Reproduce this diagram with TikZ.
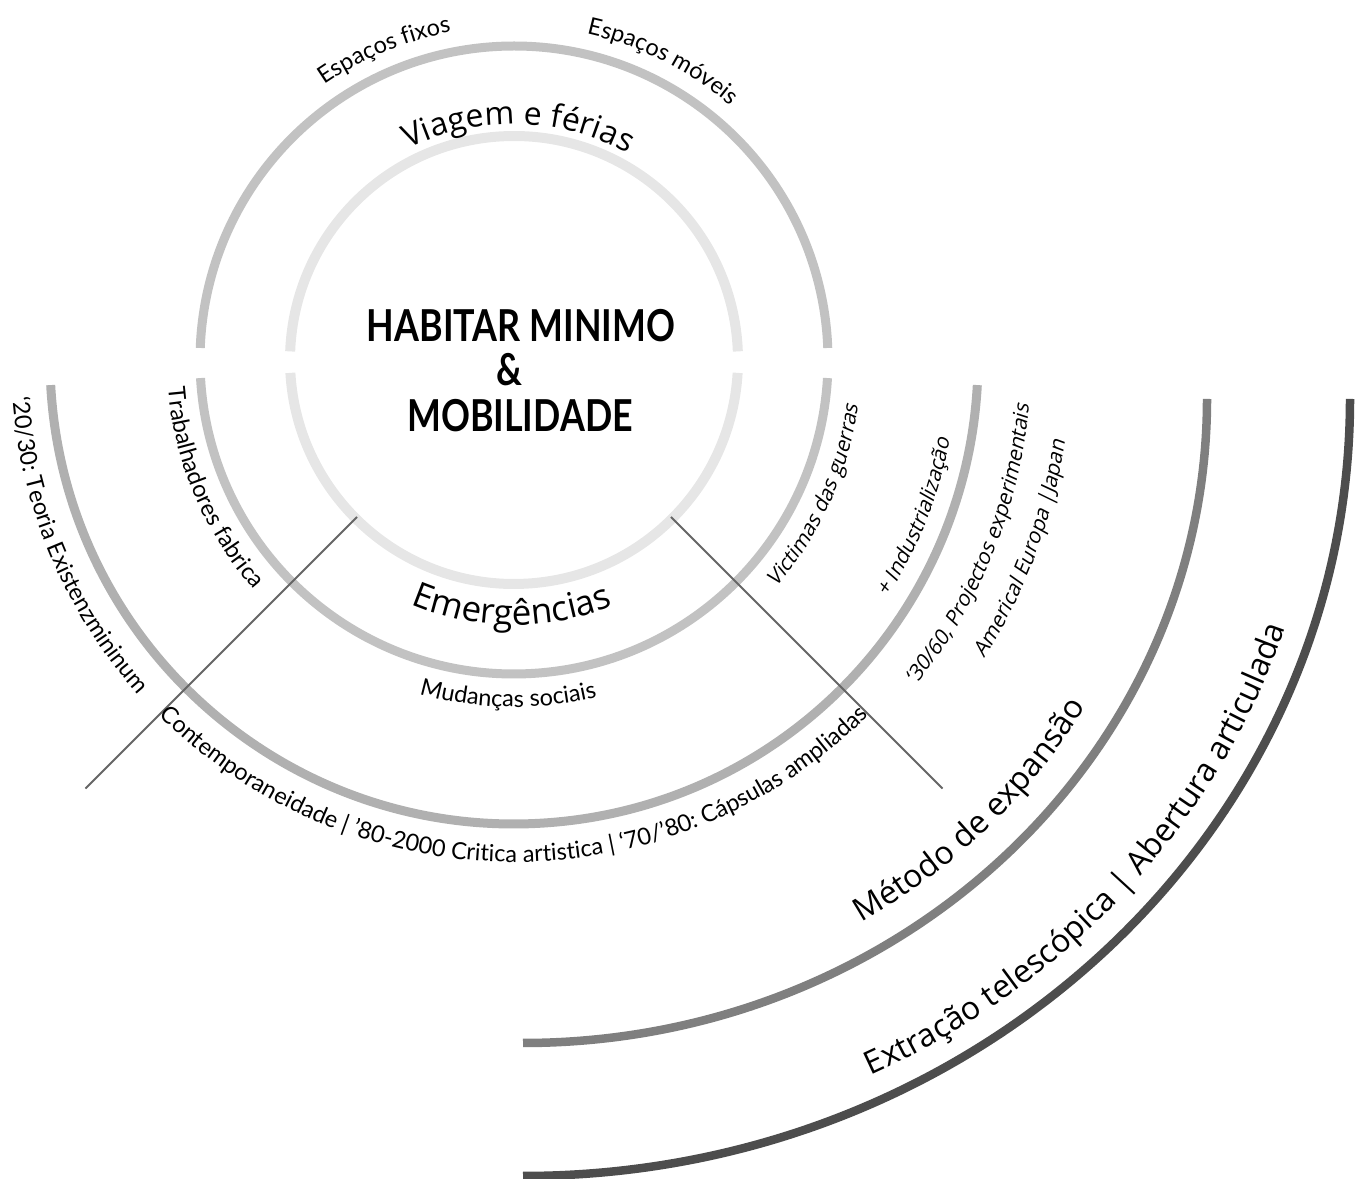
\documentclass[tikz,border=0pt]{standalone}
\usepackage{fontspec}
\setmainfont{Lato}
\newfontfamily\headfont{Open Sans}
\newfontfamily\slantfont{Open Sans}[FakeSlant=0.2]
\newfontfamily\titlefont{Lato}[FakeStretch=0.815]
\usetikzlibrary{decorations.text}
\definecolor{ringone}{HTML}{E6E6E6}
\definecolor{ringtwo}{HTML}{C2C2C2}
\definecolor{ringthree}{HTML}{B0B0B0}
\definecolor{ringfour}{HTML}{7F7F7F}
\definecolor{ringfive}{HTML}{4D4D4D}
\definecolor{divider}{HTML}{666666}
\newcommand\smalltxt{\fontsize{23.5}{28}\selectfont}
\newcommand\bigtxt{\headfont\fontsize{32}{38}\selectfont}
\newcommand\largetxt{\headfont\fontsize{35}{42}\selectfont}
\newcommand\slanttxt{\slantfont\fontsize{21}{25}\selectfont}

\begin{document}
\begin{tikzpicture}[x=1pt, y=1pt,
  ringtext/.style={decorate, decoration={text along path, text align=center, text={#1}}},
  title/.style={font=\titlefont\bfseries\fontsize{44}{50}\selectfont, anchor=base, inner sep=0pt}]
  \useasboundingbox (0,0) rectangle (1368,1178);
  \coordinate (C) at (514,818);
  \coordinate (E) at (523,779);
  \def\rone{224}
  \def\rtwo{314}
  \def\rthree{464}
  \draw[ringone, line width=10pt] (C) ++(2.2:\rone) arc[start angle=2.2, end angle=177.8, radius=\rone];
  \draw[ringone, line width=10pt] (C) ++(183.3:\rone) arc[start angle=183.3, end angle=356.7, radius=\rone];
  \draw[ringtwo, line width=9pt] (C) ++(2.2:\rtwo) arc[start angle=2.2, end angle=177.8, radius=\rtwo];
  \draw[ringtwo, line width=9pt] (C) ++(183.3:\rtwo) arc[start angle=183.3, end angle=356.7, radius=\rtwo];
  \draw[ringthree, line width=9pt] (C) ++(183.1:\rthree) arc[start angle=183.1, end angle=356.9, radius=\rthree];
  \draw[ringfour, line width=8.5pt] (1207,779) arc[start angle=0, end angle=-90, x radius=684, y radius=644];
  \draw[ringfive, line width=8.5pt] (1350,779) arc[start angle=0, end angle=-90, x radius=827, y radius=777];
  \draw[divider, line width=2pt] (C) ++(-135:222) -- ++(-135:384);
  \draw[divider, line width=2pt] (C) ++(-45:222) -- ++(-45:384);

  \node[title] (habitar) at (521,836) {HABITAR MINIMO};
  \node[title] (amp) at (509,792) {\&};
  \node[title] (mobilidade) at (520,746) {MOBILIDADE};

  \path[ringtext={|\smalltxt|Espaços fixos}] (C) ++(152.7:334) arc[start angle=152.7, end angle=72.7, radius=334];
  \path[ringtext={|\smalltxt|Espaços móveis}] (C) ++(103.5:334) arc[start angle=103.5, end angle=23.5, radius=334];
  \path[ringtext={|\bigtxt|Viagem e férias}] (C) ++(128.9:236) arc[start angle=128.9, end angle=48.9, radius=236];
  \path[ringtext={|\largetxt|Emergências}] (C) ++(-130.5:265) arc[start angle=-130.5, end angle=-50.5, radius=265];
  \path[ringtext={|\smalltxt|Mudanças sociais}] (C) ++(-131:347) arc[start angle=-131, end angle=-51, radius=347];
  \path[ringtext={|\smalltxt|Trabalhadores fabrica}] (C) ++(163:347) arc[start angle=163, end angle=243, radius=347];
  \path[ringtext={|\slanttxt|Victimas das guerras}] (C) ++(-64.2:347) arc[start angle=-64.2, end angle=15.8, radius=347];
  \path[ringtext={|\smalltxt|‘20/30: Teoria Existenzmininum}] (C) ++(153:503) arc[start angle=153, end angle=253, radius=503];
  \path[ringtext={|\smalltxt|Contemporaneidade {|} ’80-2000 Critica artistica {|} ‘70/’80: Cápsulas ampliadas}] (C) ++(-150:502) arc[start angle=-150, end angle=-30, radius=502];
  \path[ringtext={|\slanttxt|+ Industrialização}] (C) ++(-61.4:443) arc[start angle=-61.4, end angle=18.6, radius=443];
  \path[ringtext={|\slanttxt|‘30/60, Projectos experimentais}] (C) ++(-62:517) arc[start angle=-62, end angle=18, radius=517];
  \path[ringtext={|\slanttxt|Americal Europa {|}Japan}] (C) ++(-60.4:557) arc[start angle=-60.4, end angle=19.6, radius=557];
  \path[ringtext={|\bigtxt|Método de expansão}] (E) ++(-76:651 and 613) arc[start angle=-76, end angle=-12, x radius=651, y radius=613];
  \path[ringtext={|\bigtxt|Extração telescópica {|} Abertura articulada}] (E) ++(-84.4:800 and 751) arc[start angle=-84.4, end angle=3.6, x radius=800, y radius=751];
\end{tikzpicture}
\end{document}
